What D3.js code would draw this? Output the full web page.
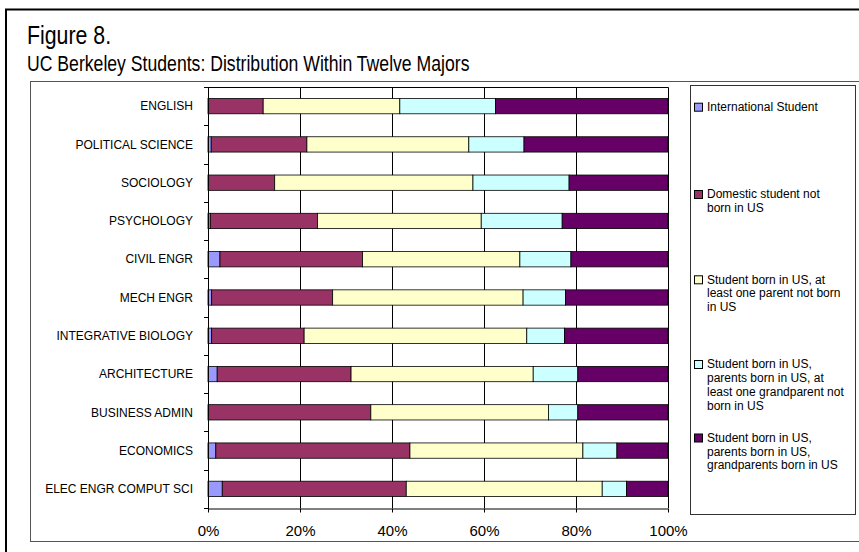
<!DOCTYPE html>
<html>
<head>
<meta charset="utf-8">
<script src="https://cdn.jsdelivr.net/npm/d3@7"></script>
<style>
  html, body { margin: 0; padding: 0; background: #fff; }
  svg { display: block; }
</style>
</head>
<body>
<svg id="chart" width="859" height="552"></svg>
<script>
const categories = ["ENGLISH", "POLITICAL SCIENCE", "SOCIOLOGY", "PSYCHOLOGY", "CIVIL ENGR", "MECH ENGR",
  "INTEGRATIVE BIOLOGY", "ARCHITECTURE", "BUSINESS ADMIN", "ECONOMICS", "ELEC ENGR COMPUT SCI"];
const seriesKeys = ["intl", "domestic", "parentNot", "grandNot", "allBorn"];
const seriesLabels = [
  ["International Student"],
  ["Domestic student not", "born in US"],
  ["Student born in US, at", "least one parent not born", "in US"],
  ["Student born in US,", "parents born in US, at", "least one grandparent not", "born in US"],
  ["Student born in US,", "parents born in US,", "grandparents born in US"]
];
const seriesColors = ["#9999FF", "#993366", "#FFFFCC", "#CCFFFF", "#660066"];
const international      = [0.0, 0.7, 0.0, 0.5, 2.6, 0.8, 0.8, 2.0, 0.0, 1.7, 3.1];
const domesticNotBorn    = [12.0, 20.8, 14.5, 23.3, 31.0, 26.3, 20.1, 29.1, 35.4, 42.2, 40.0];
const bornParentNotBorn  = [29.7, 35.2, 43.1, 35.6, 34.2, 41.4, 48.4, 39.6, 38.6, 37.6, 42.6];
const bornGrandparentNot = [20.8, 12.0, 20.9, 17.6, 11.1, 9.2, 8.2, 9.7, 6.4, 7.4, 5.3];
const bornAllInUS        = [37.5, 31.3, 21.5, 23.0, 21.1, 22.3, 22.5, 19.6, 19.6, 11.1, 9.0];
const xTicks = [0, 0.2, 0.4, 0.6, 0.8, 1.0];
const titleLine1 = "Figure 8.";
const titleLine2 = "UC Berkeley Students: Distribution Within Twelve Majors";

const seriesValues = [international, domesticNotBorn, bornParentNotBorn, bornGrandparentNot, bornAllInUS];
const table = categories.map((c, i) => {
  const row = { category: c };
  seriesKeys.forEach((k, j) => row[k] = seriesValues[j][i]);
  return row;
});

const svg = d3.select("#chart");
const sans = '"Liberation Sans", Arial, sans-serif';

// outer frame
svg.append("rect").attr("x", 6).attr("y", 9.5).attr("width", 870).attr("height", 560)
  .attr("fill", "none").attr("stroke", "#000").attr("stroke-width", 2);

// titles (Arial-Narrow look: Liberation Sans condensed horizontally)
svg.append("text").attr("transform", "translate(27,44) scale(0.82,1)")
  .attr("font-family", sans).attr("font-size", 26).attr("fill", "#000").text(titleLine1);
svg.append("text").attr("transform", "translate(27,70.5) scale(0.82,1)")
  .attr("font-family", sans).attr("font-size", 21.5).attr("fill", "#000").text(titleLine2);

// chart area frame
svg.append("rect").attr("x", 30.5).attr("y", 81.5).attr("width", 860).attr("height", 460)
  .attr("fill", "#fff").attr("stroke", "#555").attr("stroke-width", 1);

const pLeft = 208, pRight = 668, pTop = 87, pBottom = 508;
const x = d3.scaleLinear().domain([0, 1]).range([pLeft, pRight]);
const y = d3.scaleBand().domain(categories).range([pTop, pBottom]).paddingInner(0.6).paddingOuter(0.3);

// plot area
svg.append("rect").attr("x", pLeft).attr("y", pTop).attr("width", pRight - pLeft).attr("height", pBottom - pTop)
  .attr("fill", "#fff");

// gridlines
svg.append("g").selectAll("line").data(xTicks.slice(1, -1)).join("line")
  .attr("x1", d => Math.round(x(d)) + 0.5).attr("x2", d => Math.round(x(d)) + 0.5)
  .attr("y1", pTop).attr("y2", pBottom)
  .attr("stroke", "#000").attr("stroke-width", 1);

// plot border top/right
svg.append("path")
  .attr("d", `M${pLeft},${pTop + 0.5}H${pRight + 0.5}V${pBottom}`)
  .attr("fill", "none").attr("stroke", "#000").attr("stroke-width", 1);

// stacked bars
const stack = d3.stack().keys(seriesKeys).offset(d3.stackOffsetExpand);
const layers = stack(table);
svg.append("g").selectAll("g").data(layers).join("g")
  .attr("fill", (d, i) => seriesColors[i])
  .selectAll("rect").data(d => d.filter(p => p[1] - p[0] > 0)).join("rect")
  .attr("x", d => x(d[0]))
  .attr("width", d => x(d[1]) - x(d[0]))
  .attr("y", d => y(d.data.category))
  .attr("height", y.bandwidth())
  .attr("stroke", "#000").attr("stroke-width", 0.8);

// x axis
const xAxis = d3.axisBottom(x).tickValues(xTicks).tickFormat(d3.format(".0%")).tickSize(4).tickSizeOuter(0);
const gx = svg.append("g").attr("transform", `translate(0,${pBottom + 0.5})`).call(xAxis);
gx.select(".domain").attr("stroke", "#000");
gx.selectAll(".tick line").attr("stroke", "#000");
gx.selectAll(".tick text").attr("font-family", sans).attr("font-size", 15).attr("fill", "#000")
  .attr("y", 0).attr("dy", null).attr("transform", "translate(0,27.5)");

// y axis: line + boundary ticks
const gy = svg.append("g");
gy.append("line").attr("x1", pLeft + 0.5).attr("x2", pLeft + 0.5).attr("y1", pTop).attr("y2", pBottom + 1)
  .attr("stroke", "#000");
const boundaries = categories.map(c => y(c) - y.step() * y.paddingInner() / 2).concat([pBottom]);
gy.selectAll("line.tk").data(boundaries).join("line").attr("class", "tk")
  .attr("x1", pLeft - 4).attr("x2", pLeft)
  .attr("y1", d => Math.round(d) + 0.5).attr("y2", d => Math.round(d) + 0.5)
  .attr("stroke", "#000");
gy.selectAll("text").data(categories).join("text")
  .attr("x", 193).attr("y", d => y(d) + y.bandwidth() / 2)
  .attr("dy", "0.35em").attr("text-anchor", "end")
  .attr("font-family", sans).attr("font-size", 12).attr("fill", "#000")
  .text(d => d);

// legend
svg.append("rect").attr("x", 690.5).attr("y", 85.5).attr("width", 165).attr("height", 429)
  .attr("fill", "#fff").attr("stroke", "#333").attr("stroke-width", 1);
const legendFirstLine = [106.7, 194, 279.3, 364, 437.5];
const lineH = 13.8;
const lg = svg.append("g").selectAll("g").data(seriesLabels).join("g")
  .attr("transform", (d, i) => `translate(0,${legendFirstLine[i]})`);
lg.append("rect").attr("x", 694.5).attr("y", -3.5).attr("width", 8).attr("height", 8)
  .attr("fill", (d, i) => seriesColors[i]).attr("stroke", "#000").attr("stroke-width", 1);
lg.each(function(lines) {
  const t = d3.select(this).append("text").attr("font-family", sans).attr("font-size", 12).attr("fill", "#000");
  lines.forEach((ln, k) => {
    t.append("tspan").attr("x", 707).attr("y", k * lineH).attr("dy", "0.35em").text(ln);
  });
});
</script>
</body>
</html>
